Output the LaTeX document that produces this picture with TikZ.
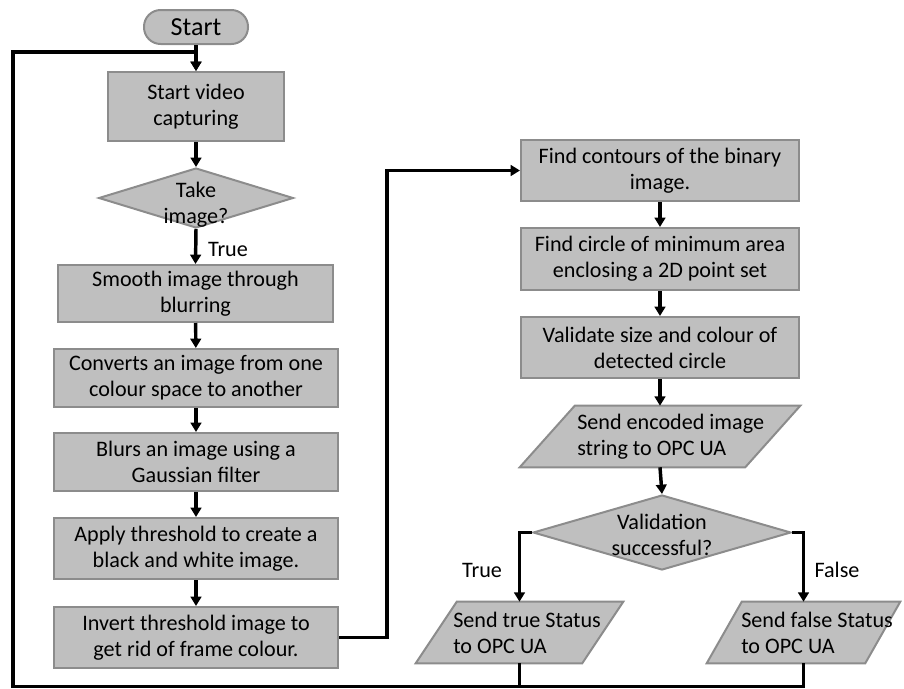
\documentclass[tikz,border=0pt]{standalone}
\usepackage{fontspec}
\setmainfont{Carlito}
\usetikzlibrary{shapes.geometric,arrows.meta,calc}
\definecolor{boxfill}{RGB}{191,191,191}
\definecolor{boxline}{RGB}{140,140,140}
\begin{document}
\begin{tikzpicture}[x=0.75pt,y=-0.75pt,
  every node/.style={font=\fontsize{16.6}{19.5}\selectfont},
  stepbox/.style={rectangle, draw=boxline, fill=boxfill, line width=1.5pt, align=center, inner sep=0pt},
  term/.style={rectangle, rounded corners=12.5pt, draw=boxline, fill=boxfill, line width=1.5pt,
    minimum width=78pt, minimum height=25.5pt, inner sep=0pt, font=\fontsize{19.5}{22}\selectfont},
  decision/.style={diamond, draw=boxline, fill=boxfill, line width=1.5pt, inner sep=0pt},
  iobox/.style={rectangle, inner sep=0pt},
  ioshape/.style={draw=boxline, fill=boxfill, line width=1.5pt},
  flow/.style={line width=2.6pt, -{Triangle[length=7pt,width=8pt]}},
  plain/.style={line width=2.6pt},
]
\useasboundingbox (0,0) rectangle (904,689);

% ---- left column ----
\node[term] (start) at (196,27) {Start};
\node[stepbox, minimum width=132pt, minimum height=51.75pt] (capture) at (196,106.5) {Start video\\capturing};
\node[decision, minimum width=146pt, minimum height=45pt] (take) at (196,198) {};
\node[align=center, inner sep=0pt] (taketext) at (196,205) {Take\\image?};
\node[stepbox, minimum width=206.25pt, minimum height=42.75pt] (smooth) at (195.5,293.5) {Smooth image through\\blurring};
\node[stepbox, minimum width=213pt, minimum height=43.5pt] (convert) at (196,378) {Converts an image from one\\colour space to another};
\node[stepbox, minimum width=213pt, minimum height=43.5pt] (gauss) at (196,462) {Blurs an image using a\\Gaussian filter};
\node[stepbox, minimum width=213pt, minimum height=45.75pt] (thresh) at (196,548.5) {Apply threshold to create a\\black and white image.};
\node[stepbox, minimum width=213pt, minimum height=45.75pt] (invert) at (196,637.5) {Invert threshold image to\\get rid of frame colour.};

% ---- right column ----
\node[stepbox, minimum width=208.5pt, minimum height=45.75pt] (contours) at (660,170.5) {Find contours of the binary\\image.};
\node[stepbox, minimum width=208.5pt, minimum height=46.5pt] (circle) at (660,259) {Find circle of minimum area\\enclosing a 2D point set};
\node[stepbox, minimum width=208.5pt, minimum height=45.75pt] (validate) at (660,347.5) {Validate size and colour of\\detected circle};

% encoded image output
\node[iobox, minimum width=210pt, minimum height=45.75pt] (encode) at (660,436.5) {};
\path[ioshape] ($(encode.north west)+(55,0)$) -- (encode.north east)
  -- ($(encode.south east)-(55,0)$) -- (encode.south west) -- cycle;
\node[anchor=west, align=left, inner sep=0pt] (encodetext) at (577,437) {Send encoded image\\string to OPC UA};

\node[decision, minimum width=193.5pt, minimum height=56.25pt] (valid) at (662,532.5) {};
\node[align=center, inner sep=0pt] (validtext) at (662,535) {Validation\\successful?};

% status outputs
\node[iobox, minimum width=155.25pt, minimum height=45.75pt] (sendtrue) at (519.5,632.5) {};
\path[ioshape] ($(sendtrue.north west)+(41,0)$) -- (sendtrue.north east)
  -- ($(sendtrue.south east)-(41,0)$) -- (sendtrue.south west) -- cycle;
\node[anchor=west, align=left, inner sep=0pt] (sendtruetext) at (453,633) {Send true Status\\to OPC UA};

\node[iobox, minimum width=144.75pt, minimum height=45.75pt] (sendfalse) at (803.5,632.5) {};
\path[ioshape] ($(sendfalse.north west)+(35,0)$) -- (sendfalse.north east)
  -- ($(sendfalse.south east)-(35,0)$) -- (sendfalse.south west) -- cycle;
\node[anchor=west, align=left, inner sep=0pt] (sendfalsetext) at (741,633) {Send false Status\\to OPC UA};

% branch labels
\node (truelbl) at (228,249) {True};
\node (truelbl2) at (482,570) {True};
\node (falselbl) at (837,570) {False};

% loop corners
\coordinate (loopbl) at (13,686.5);
\coordinate (looptl) at (13,52);

% ---- connectors ----
\draw[flow] (start) -- (capture);
\draw[flow] (capture) -- (take);
\draw[flow] (take.south) -- (smooth.north);
\draw[flow] (smooth) -- (convert);
\draw[flow] (convert) -- (gauss);
\draw[flow] (gauss) -- (thresh);
\draw[flow] (thresh) -- (invert);
\draw[flow] (invert.east) -- ++(48,0) |- (contours.west);
\draw[flow] (contours) -- (circle);
\draw[flow] (circle) -- (validate);
\draw[flow] (validate.south) -- (encode.north);
\draw[flow] (encode.south) -- (valid.north);
\draw[flow] (valid.west) -| (sendtrue.north);
\draw[flow] (valid.east) -| (sendfalse.north);
\draw[plain] (sendtrue.south) -- (sendtrue.south |- loopbl);
\draw[flow] (sendfalse.south) |- (loopbl) -- (looptl) -| (capture.north);
\end{tikzpicture}
\end{document}
